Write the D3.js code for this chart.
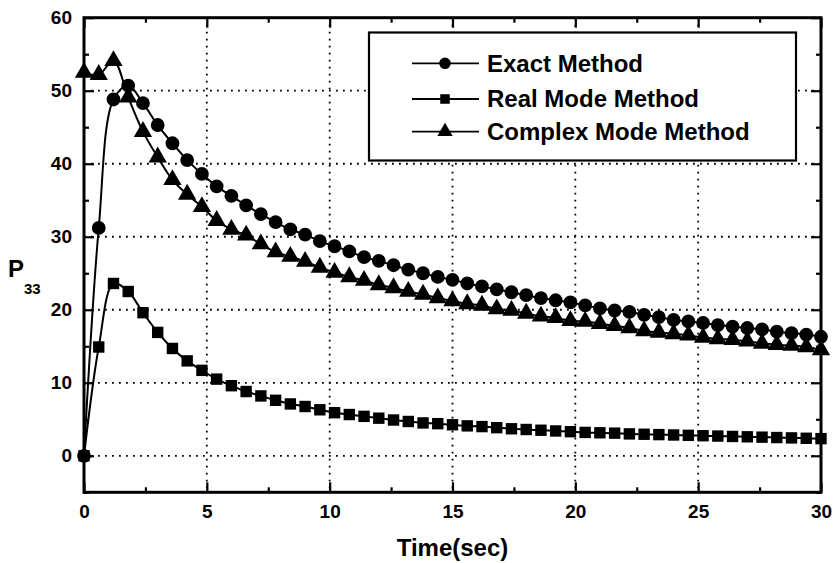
<!DOCTYPE html>
<html>
<head>
<meta charset="utf-8">
<script src="https://cdn.jsdelivr.net/npm/d3@7"></script>
<style>
  body { margin: 0; background: #fff; }
  text { font-family: "Liberation Sans", Arial, sans-serif; font-weight: bold; fill: #000; }
</style>
</head>
<body>
<div id="chart"></div>
<script>
// time samples (sec)
const times = [0, 0.6, 1.2, 1.8, 2.4, 3.0, 3.6, 4.2, 4.8, 5.4,
    6.0, 6.6, 7.2, 7.8, 8.4, 9.0, 9.6, 10.2, 10.8, 11.4,
    12.0, 12.6, 13.2, 13.8, 14.4, 15.0, 15.6, 16.2, 16.8, 17.4,
    18.0, 18.6, 19.2, 19.8, 20.4, 21.0, 21.6, 22.2, 22.8, 23.4,
    24.0, 24.6, 25.2, 25.8, 26.4, 27.0, 27.6, 28.2, 28.8, 29.4, 30.0];

const exactMethod = [0, 31.2, 48.8, 50.7, 48.3, 45.3, 42.8, 40.5, 38.6, 36.9,
    35.6, 34.3, 33.1, 32.0, 31.0, 30.3, 29.4, 28.7, 28.0, 27.2,
    26.7, 26.1, 25.5, 25.0, 24.5, 24.1, 23.6, 23.2, 22.8, 22.4,
    22.0, 21.6, 21.3, 21.0, 20.6, 20.2, 19.9, 19.7, 19.3, 19.0,
    18.6, 18.4, 18.2, 17.9, 17.7, 17.5, 17.3, 17.0, 16.8, 16.6, 16.3];

const realMode = [0, 14.9, 23.6, 22.5, 19.6, 16.9, 14.7, 13.0, 11.7, 10.5,
    9.6, 8.8, 8.2, 7.6, 7.1, 6.75, 6.3, 5.9, 5.65, 5.4,
    5.15, 4.9, 4.7, 4.5, 4.4, 4.25, 4.1, 4.0, 3.85, 3.7,
    3.6, 3.5, 3.4, 3.3, 3.2, 3.15, 3.1, 3.0, 2.95, 2.9,
    2.85, 2.8, 2.75, 2.7, 2.65, 2.6, 2.55, 2.5, 2.45, 2.4, 2.35];

const complexMode = [52.5, 52.2, 54.1, 49.1, 44.4, 40.9, 37.8, 35.8, 34.1, 32.2,
    31.0, 30.2, 29.0, 27.9, 27.3, 26.6, 25.8, 25.1, 24.5, 24.0,
    23.4, 23.0, 22.5, 22.1, 21.6, 21.2, 20.8, 20.6, 20.1, 19.9,
    19.5, 19.1, 18.9, 18.5, 18.4, 18.1, 17.8, 17.5, 17.1, 16.9,
    16.7, 16.5, 16.2, 16.0, 15.9, 15.7, 15.4, 15.2, 15.1, 14.9, 14.5];

const seriesNames = ["Exact Method", "Real Mode Method", "Complex Mode Method"];
const xMajor = [0, 5, 10, 15, 20, 25, 30];
const xMinor = [2.5, 7.5, 12.5, 17.5, 22.5, 27.5];
const yMajor = [0, 10, 20, 30, 40, 50, 60];
const yMinor = [-5, 5, 15, 25, 35, 45, 55];

const W = 833, H = 563;
const plot = {left: 84, right: 821, top: 17.7, bottom: 492.3};

const svg = d3.select("#chart")
    .append("svg")
    .attr("width", W)
    .attr("height", H);

const x = d3.scaleLinear().domain([0, 30]).range([plot.left, plot.right]);
const y = d3.scaleLinear().domain([-5, 60]).range([plot.bottom, plot.top]);

// dotted grid
svg.append("g")
    .selectAll("line")
    .data(xMajor.slice(1, -1))
    .enter().append("line")
    .attr("x1", d => x(d)).attr("x2", d => x(d))
    .attr("y1", plot.top).attr("y2", plot.bottom)
    .attr("stroke", "#000").attr("stroke-width", 1.8)
    .attr("stroke-dasharray", "1.8,5.2");
svg.append("g")
    .selectAll("line")
    .data(yMajor.slice(0, -1))
    .enter().append("line")
    .attr("x1", plot.left).attr("x2", plot.right)
    .attr("y1", d => y(d)).attr("y2", d => y(d))
    .attr("stroke", "#000").attr("stroke-width", 1.8)
    .attr("stroke-dasharray", "1.8,5.2");

// axes, ticks pointing inward
function styleAxis(g) {
    g.select(".domain").remove();
    g.selectAll(".tick line").attr("stroke", "#000").attr("stroke-width", 2.2);
    g.selectAll(".tick text").style("font-size", "19px").style("font-family", "Liberation Sans, Arial, sans-serif").style("font-weight", "bold");
}

svg.append("g")
    .attr("transform", `translate(0, ${plot.bottom})`)
    .call(d3.axisBottom(x).tickValues(xMajor).tickSizeInner(-10).tickSizeOuter(0).tickPadding(12).tickFormat(d3.format("d")))
    .call(styleAxis);
svg.append("g")
    .attr("transform", `translate(0, ${plot.bottom})`)
    .call(d3.axisBottom(x).tickValues(xMinor).tickSizeInner(-5).tickSizeOuter(0).tickFormat(""))
    .call(styleAxis);
svg.append("g")
    .attr("transform", `translate(0, ${plot.top})`)
    .call(d3.axisTop(x).tickValues(xMajor).tickSizeInner(-10).tickSizeOuter(0).tickFormat(""))
    .call(styleAxis);
svg.append("g")
    .attr("transform", `translate(0, ${plot.top})`)
    .call(d3.axisTop(x).tickValues(xMinor).tickSizeInner(-5).tickSizeOuter(0).tickFormat(""))
    .call(styleAxis);

svg.append("g")
    .attr("transform", `translate(${plot.left}, 0)`)
    .call(d3.axisLeft(y).tickValues(yMajor).tickSizeInner(-10).tickSizeOuter(0).tickPadding(12).tickFormat(d3.format("d")))
    .call(styleAxis);
svg.append("g")
    .attr("transform", `translate(${plot.left}, 0)`)
    .call(d3.axisLeft(y).tickValues(yMinor).tickSizeInner(-5).tickSizeOuter(0).tickFormat(""))
    .call(styleAxis);
svg.append("g")
    .attr("transform", `translate(${plot.right}, 0)`)
    .call(d3.axisRight(y).tickValues(yMajor).tickSizeInner(-10).tickSizeOuter(0).tickFormat(""))
    .call(styleAxis);
svg.append("g")
    .attr("transform", `translate(${plot.right}, 0)`)
    .call(d3.axisRight(y).tickValues(yMinor).tickSizeInner(-5).tickSizeOuter(0).tickFormat(""))
    .call(styleAxis);

// series
const symbols = [d3.symbolCircle, d3.symbolSquare, d3.symbolTriangle];
const symSizes = [150, 130, 145];
const allSeries = [exactMethod, realMode, complexMode];

const line = d3.line()
    .x(d => x(d.t))
    .y(d => y(d.v))
    .curve(d3.curveCatmullRom.alpha(0.5));

allSeries.forEach((vals, k) => {
    const pts = times.map((t, i) => ({t: t, v: vals[i]}));
    svg.append("path")
        .datum(pts)
        .attr("fill", "none")
        .attr("stroke", "#000")
        .attr("stroke-width", 2)
        .attr("d", line);
    svg.append("g")
        .selectAll("path")
        .data(pts)
        .enter().append("path")
        .attr("transform", d => `translate(${x(d.t)}, ${y(d.v)})`)
        .attr("d", d3.symbol().type(symbols[k]).size(symSizes[k]))
        .attr("fill", "#000");
});

// frame
svg.append("rect")
    .attr("x", plot.left).attr("y", plot.top)
    .attr("width", plot.right - plot.left)
    .attr("height", plot.bottom - plot.top)
    .attr("fill", "none")
    .attr("stroke", "#000")
    .attr("stroke-width", 3);

// legend
const leg = svg.append("g");
leg.append("rect")
    .attr("x", 369).attr("y", 32.5)
    .attr("width", 427).attr("height", 128)
    .attr("fill", "#fff")
    .attr("stroke", "#000")
    .attr("stroke-width", 2.2);

const legRows = [63.3, 99, 131.7];
seriesNames.forEach((name, k) => {
    const cy = legRows[k];
    leg.append("line")
        .attr("x1", 412).attr("x2", 479)
        .attr("y1", cy).attr("y2", cy)
        .attr("stroke", "#000").attr("stroke-width", 1.8);
    leg.append("path")
        .attr("transform", `translate(445, ${cy})`)
        .attr("d", d3.symbol().type(symbols[k]).size(symSizes[k] * 0.7))
        .attr("fill", "#000");
    leg.append("text")
        .attr("x", 487)
        .attr("y", cy + 8.2)
        .style("font-size", "24px")
        .text(name);
});

// axis titles
svg.append("text")
    .attr("x", (plot.left + plot.right) / 2)
    .attr("y", 556)
    .attr("text-anchor", "middle")
    .style("font-size", "24px")
    .text("Time(sec)");

const yt = svg.append("text")
    .attr("x", 8)
    .attr("y", 277)
    .style("font-size", "24px");
yt.append("tspan").text("P");
yt.append("tspan")
    .attr("dy", 17)
    .style("font-size", "15px")
    .text("33");
</script>
</body>
</html>
